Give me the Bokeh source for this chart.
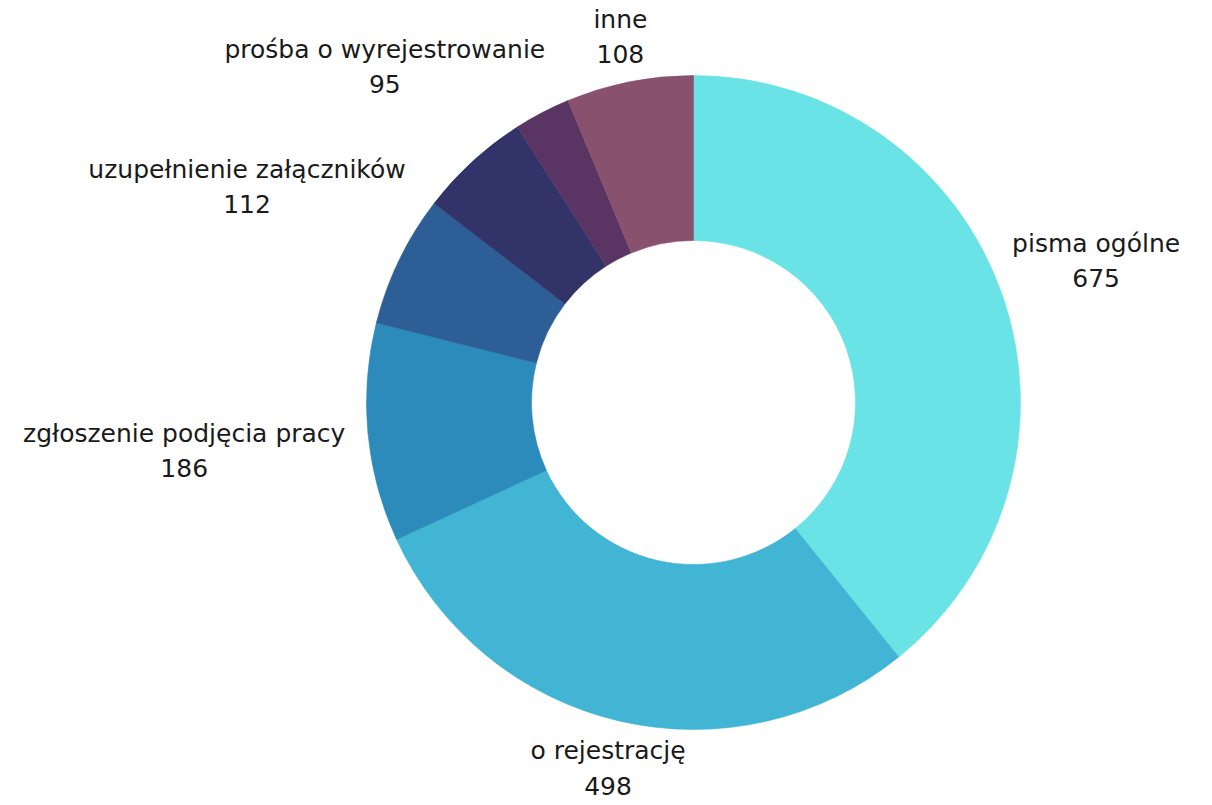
import math
from bokeh.plotting import figure
from bokeh.models import Range1d, ColumnDataSource
from bokeh.core.properties import value
from bokeh.embed import file_html
from bokeh.resources import INLINE

# ---- data ----
categories = ["pisma ogólne", "o rejestrację", "zgłoszenie podjęcia pracy",
              "uzupełnienie załączników", "prośba o wyrejestrowanie", "", "inne"]
values = [675, 498, 186, 112, 95, 48, 108]
show_label = [True, True, True, True, True, False, True]
colors = ["#69E3E6", "#42B5D5", "#2C8BBA", "#2D5F96", "#313369", "#5A3563", "#88526F"]

# ---- geometry (pixel-like data units) ----
W, H = 1212, 805
X0, Y0 = 0, 0              # page offset of the figure
CX, CY = 693, 402          # centre in page pixels
R_OUT, R_IN = 327, 162
R_LAB = 341
FONT = "DejaVu Sans"
FS = 25
CHAR_W = 13.5
BOX_TOP, BOX_BOT = 24, 28  # label box extent above / below its centre

p = figure(width=W, height=H,
           x_range=Range1d(X0 - CX, X0 + W - CX),
           y_range=Range1d(CY - (Y0 + H), CY - Y0),
           x_axis_type=None, y_axis_type=None,
           output_backend="svg", toolbar_location=None, min_border=0)
p.grid.visible = False
p.outline_line_color = None
p.background_fill_color = "white"
p.border_fill_color = "white"

total = float(sum(values))
starts, ends, mids = [], [], []
cum = 0.0
for v in values:
    a0 = math.pi / 2 - 2 * math.pi * (cum + v) / total
    a1 = math.pi / 2 - 2 * math.pi * cum / total
    starts.append(a0)
    ends.append(a1)
    mids.append((a0 + a1) / 2)
    cum += v

src = ColumnDataSource(dict(start=starts, end=ends, color=colors))
p.annular_wedge(x=0, y=0, inner_radius=R_IN, outer_radius=R_OUT,
                start_angle="start", end_angle="end", direction="anticlock",
                fill_color="color", line_color="color", line_width=0.6, source=src)


def box_dist(cx, cy, hw):
    dx = max(abs(cx) - hw, 0.0)
    if cy >= 0:
        dy = max(cy - BOX_BOT, 0.0)
    else:
        dy = max(-cy - BOX_TOP, 0.0)
    return math.hypot(dx, dy)


nx, ny, nt, vx, vy, vt = [], [], [], [], [], []
for name, v, show, a in zip(categories, values, show_label, mids):
    if not show:
        continue
    hw = max(len(name), len(str(v))) * CHAR_W / 2
    ux, uy = math.cos(a), math.sin(a)
    d = 0.0
    while box_dist(ux * d, uy * d, hw) < R_LAB:
        d += 0.5
    cx, cy = ux * d, uy * d
    nx.append(cx); ny.append(cy + 17); nt.append(name)
    vx.append(cx); vy.append(cy - 18); vt.append(str(v))

p.text(x=nx, y=ny, text=nt, text_align="center", text_baseline="alphabetic",
       text_font=value(FONT), text_font_size=f"{FS}px", text_color="#1a1a1a")
p.text(x=vx, y=vy, text=vt, text_align="center", text_baseline="alphabetic",
       text_font=value(FONT), text_font_size=f"{FS}px", text_color="#1a1a1a")

open("out.html", "w").write(file_html(p, INLINE))
